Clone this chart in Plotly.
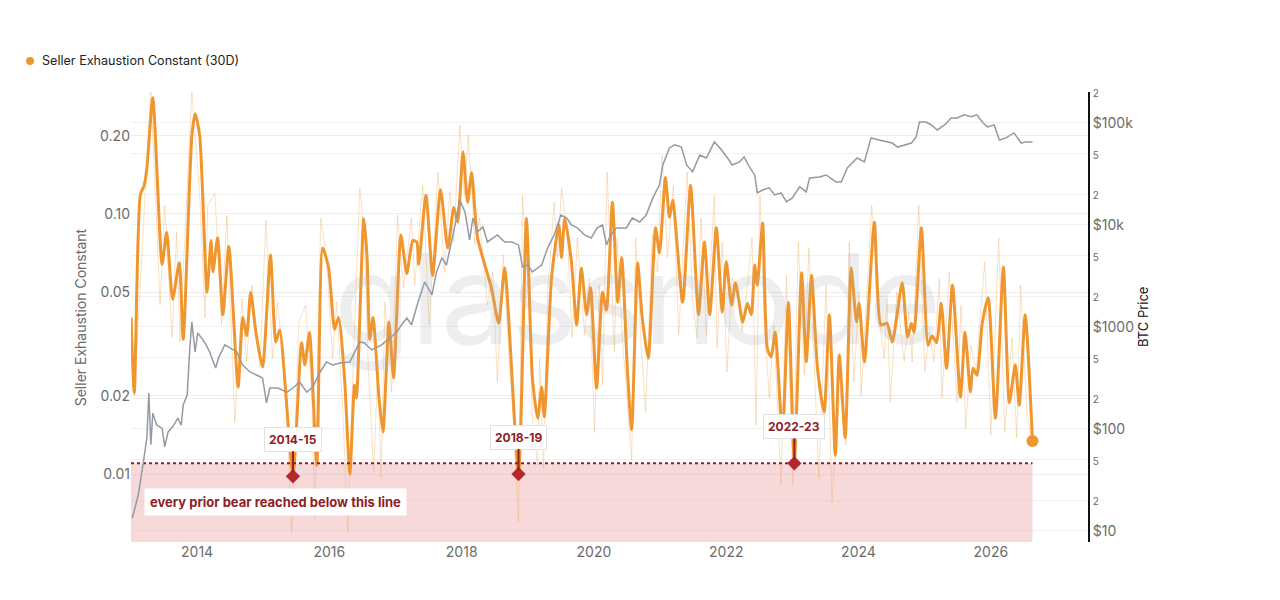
import math
import pandas as pd
import plotly.graph_objects as go

# Seller Exhaustion Constant, smoothed 30D (decimal year, value)
sec_t = [2013.00, 2013.05, 2013.14, 2013.20, 2013.24, 2013.33, 2013.47, 2013.54, 2013.63, 2013.73,
         2013.79, 2013.92, 2013.97, 2014.04, 2014.15, 2014.21, 2014.24, 2014.31, 2014.39, 2014.48,
         2014.62, 2014.69, 2014.75, 2014.81, 2014.89, 2014.99, 2015.11, 2015.19, 2015.25, 2015.45,
         2015.58, 2015.63, 2015.70, 2015.81, 2015.90, 2015.99, 2016.08, 2016.14, 2016.23, 2016.31,
         2016.38, 2016.41, 2016.52, 2016.57, 2016.61, 2016.66, 2016.75, 2016.81, 2016.90, 2016.97,
         2017.08, 2017.17, 2017.26, 2017.32, 2017.35, 2017.46, 2017.56, 2017.68, 2017.79, 2017.88,
         2017.94, 2018.02, 2018.09, 2018.15, 2018.24, 2018.45, 2018.56, 2018.65, 2018.86, 2018.98,
         2019.07, 2019.15, 2019.21, 2019.25, 2019.36, 2019.47, 2019.51, 2019.56, 2019.66, 2019.74,
         2019.81, 2019.89, 2019.95, 2020.04, 2020.13, 2020.19, 2020.28, 2020.36, 2020.42, 2020.51,
         2020.57, 2020.66, 2020.73, 2020.82, 2020.93, 2020.99, 2021.08, 2021.14, 2021.19, 2021.34,
         2021.46, 2021.58, 2021.67, 2021.75, 2021.85, 2021.94, 2022.00, 2022.08, 2022.14, 2022.25,
         2022.32, 2022.38, 2022.43, 2022.47, 2022.55, 2022.62, 2022.68, 2022.74, 2022.85, 2022.94,
         2023.03, 2023.14, 2023.21, 2023.29, 2023.38, 2023.48, 2023.56, 2023.65, 2023.71, 2023.80,
         2023.89, 2023.97, 2024.01, 2024.09, 2024.24, 2024.34, 2024.43, 2024.51, 2024.66, 2024.74,
         2024.80, 2024.84, 2024.95, 2025.05, 2025.11, 2025.18, 2025.25, 2025.33, 2025.42, 2025.54,
         2025.61, 2025.69, 2025.73, 2025.79, 2025.87, 2025.96, 2026.07, 2026.19, 2026.28, 2026.37,
         2026.43, 2026.52, 2026.63]
sec_v = [0.040, 0.0205, 0.118, 0.129, 0.150, 0.280, 0.064, 0.085, 0.047, 0.065,
         0.033, 0.200, 0.243, 0.200, 0.050, 0.079, 0.060, 0.081, 0.041, 0.075,
         0.0216, 0.040, 0.034, 0.050, 0.035, 0.0258, 0.0695, 0.0322, 0.0358, 0.0099,
         0.032, 0.0263, 0.035, 0.0108, 0.074, 0.062, 0.036, 0.040, 0.0234, 0.010,
         0.022, 0.0196, 0.096, 0.068, 0.033, 0.040, 0.0196, 0.0145, 0.0384, 0.0234,
         0.083, 0.059, 0.079, 0.078, 0.064, 0.118, 0.058, 0.124, 0.074, 0.106,
         0.093, 0.173, 0.111, 0.144, 0.081, 0.052, 0.038, 0.062, 0.0100, 0.096,
         0.0234, 0.0164, 0.0216, 0.0166, 0.057, 0.091, 0.068, 0.096, 0.0656, 0.0374,
         0.062, 0.041, 0.052, 0.0214, 0.050, 0.0427, 0.111, 0.0458, 0.068, 0.024,
         0.0148, 0.0648, 0.0398, 0.0279, 0.0885, 0.0708, 0.138, 0.097, 0.113, 0.0458,
         0.129, 0.041, 0.078, 0.041, 0.0885, 0.042, 0.0656, 0.0447, 0.0544, 0.0384,
         0.0454, 0.041, 0.0636, 0.0533, 0.0923, 0.0305, 0.0282, 0.0351, 0.0141, 0.0458,
         0.0110, 0.0594, 0.027, 0.058, 0.0255, 0.0173, 0.041, 0.0118, 0.0287, 0.0138,
         0.062, 0.0384, 0.0454, 0.027, 0.093, 0.0374, 0.038, 0.0322, 0.0544, 0.0336,
         0.038, 0.035, 0.0885, 0.0313, 0.034, 0.032, 0.0454, 0.0255, 0.0533, 0.0198,
         0.0351, 0.0207, 0.0255, 0.024, 0.038, 0.0476, 0.0164, 0.0626, 0.0188, 0.0263,
         0.0184, 0.041, 0.0134]

# raw (daily) readings, thin line
raw_t = [2013.00, 2013.05, 2013.30, 2013.44, 2013.51, 2013.62, 2013.69, 2013.74, 2013.92, 2014.04,
         2014.12, 2014.16, 2014.27, 2014.37, 2014.45, 2014.57, 2014.68, 2014.75, 2014.83, 2014.95,
         2015.04, 2015.14, 2015.22, 2015.36, 2015.43, 2015.51, 2015.54, 2015.64, 2015.73, 2015.78,
         2015.87, 2015.96, 2016.05, 2016.11, 2016.20, 2016.28, 2016.35, 2016.46, 2016.53, 2016.59,
         2016.67, 2016.73, 2016.78, 2016.84, 2016.94, 2017.03, 2017.12, 2017.24, 2017.29, 2017.41,
         2017.51, 2017.64, 2017.74, 2017.82, 2017.88, 2017.97, 2018.04, 2018.10, 2018.20, 2018.27,
         2018.39, 2018.47, 2018.54, 2018.63, 2018.71, 2018.78, 2018.86, 2018.92, 2019.03, 2019.07,
         2019.15, 2019.18, 2019.24, 2019.30, 2019.40, 2019.45, 2019.51, 2019.60, 2019.67, 2019.75,
         2019.86, 2019.93, 2020.01, 2020.08, 2020.13, 2020.20, 2020.31, 2020.35, 2020.43, 2020.57,
         2020.63, 2020.72, 2020.78, 2020.88, 2020.96, 2021.03, 2021.11, 2021.20, 2021.28, 2021.41,
         2021.49, 2021.56, 2021.62, 2021.70, 2021.82, 2021.86, 2021.94, 2022.01, 2022.09, 2022.18,
         2022.24, 2022.32, 2022.39, 2022.45, 2022.51, 2022.57, 2022.65, 2022.72, 2022.83, 2022.91,
         2022.98, 2023.01, 2023.09, 2023.18, 2023.25, 2023.33, 2023.40, 2023.51, 2023.60, 2023.68,
         2023.75, 2023.81, 2023.86, 2023.93, 2024.01, 2024.04, 2024.20, 2024.31, 2024.39, 2024.43,
         2024.48, 2024.58, 2024.69, 2024.76, 2024.81, 2024.91, 2025.00, 2025.07, 2025.14, 2025.22,
         2025.26, 2025.37, 2025.49, 2025.55, 2025.62, 2025.70, 2025.78, 2025.84, 2025.91, 2026.00,
         2026.12, 2026.21, 2026.32, 2026.39, 2026.45, 2026.55, 2026.62]
raw_v = [0.0398, 0.020, 0.30, 0.0447, 0.108, 0.0334, 0.0853, 0.0322, 0.30, 0.118,
         0.0398, 0.108, 0.1205, 0.0374, 0.0991, 0.0158, 0.0475, 0.027, 0.0533, 0.0256,
         0.0948, 0.0279, 0.0459, 0.0164, 0.00598, 0.022, 0.0384, 0.0447, 0.022, 0.00677,
         0.0965, 0.0677, 0.0279, 0.0459, 0.0184, 0.00598, 0.022, 0.126, 0.0809, 0.0247,
         0.0102, 0.0256, 0.00965, 0.0459, 0.0207, 0.0991, 0.0519, 0.0965, 0.0533, 0.129,
         0.0374, 0.145, 0.0598, 0.1215, 0.078, 0.22, 0.118, 0.2013, 0.076, 0.0965,
         0.0447, 0.0598, 0.0226, 0.0696, 0.0295, 0.0164, 0.00654, 0.118, 0.0398, 0.0164,
         0.0108, 0.0279, 0.0105, 0.0501, 0.111, 0.0677, 0.126, 0.083, 0.0334, 0.0809,
         0.0342, 0.0567, 0.0145, 0.0533, 0.022, 0.145, 0.0295, 0.0809, 0.0334, 0.0113,
         0.0809, 0.0295, 0.0173, 0.083, 0.0598, 0.169, 0.0677, 0.129, 0.0342, 0.145,
         0.0459, 0.0334, 0.0965, 0.0342, 0.118, 0.0305, 0.078, 0.0247, 0.0567, 0.0475,
         0.0352, 0.0533, 0.0809, 0.0154, 0.118, 0.042, 0.0196, 0.0374, 0.00907, 0.0583,
         0.0138, 0.00907, 0.078, 0.024, 0.074, 0.027, 0.00965, 0.0533, 0.0078, 0.0164,
         0.022, 0.0129, 0.078, 0.0226, 0.0501, 0.0201, 0.108, 0.0398, 0.0279, 0.0475,
         0.0189, 0.0501, 0.027, 0.042, 0.027, 0.108, 0.0247, 0.0352, 0.027, 0.0567,
         0.0196, 0.0598, 0.0189, 0.0447, 0.015, 0.0313, 0.0247, 0.0409, 0.0654, 0.0141,
         0.0809, 0.0145, 0.0334, 0.0138, 0.0533, 0.0164, 0.0138]

# BTC price (decimal year, USD)
btc_t = [2013.02, 2013.11, 2013.18, 2013.24, 2013.27, 2013.30, 2013.33, 2013.39, 2013.47, 2013.51,
         2013.56, 2013.63, 2013.71, 2013.76, 2013.79, 2013.85, 2013.89, 2013.92, 2013.97, 2014.01,
         2014.12, 2014.19, 2014.28, 2014.33, 2014.42, 2014.50, 2014.60, 2014.69, 2014.80, 2014.90,
         2014.99, 2015.05, 2015.10, 2015.22, 2015.36, 2015.45, 2015.55, 2015.66, 2015.75, 2015.86,
         2015.96, 2016.05, 2016.16, 2016.31, 2016.46, 2016.53, 2016.64, 2016.79, 2016.88, 2017.02,
         2017.09, 2017.17, 2017.24, 2017.34, 2017.44, 2017.55, 2017.62, 2017.70, 2017.77, 2017.85,
         2017.91, 2017.97, 2018.05, 2018.12, 2018.17, 2018.24, 2018.32, 2018.39, 2018.47, 2018.54,
         2018.65, 2018.76, 2018.86, 2018.92, 2019.00, 2019.07, 2019.21, 2019.30, 2019.40, 2019.50,
         2019.59, 2019.66, 2019.75, 2019.86, 2019.96, 2020.05, 2020.13, 2020.19, 2020.24, 2020.34,
         2020.49, 2020.58, 2020.69, 2020.79, 2020.89, 2020.99, 2021.04, 2021.14, 2021.22, 2021.32,
         2021.40, 2021.49, 2021.60, 2021.70, 2021.82, 2021.93, 2022.02, 2022.09, 2022.20, 2022.27,
         2022.35, 2022.43, 2022.47, 2022.55, 2022.65, 2022.73, 2022.83, 2022.91, 2023.00, 2023.11,
         2023.21, 2023.26, 2023.41, 2023.51, 2023.66, 2023.74, 2023.83, 2023.98, 2024.09, 2024.19,
         2024.31, 2024.42, 2024.51, 2024.59, 2024.69, 2024.80, 2024.87, 2024.92, 2025.02, 2025.10,
         2025.19, 2025.30, 2025.40, 2025.49, 2025.60, 2025.70, 2025.79, 2025.87, 2025.95, 2026.05,
         2026.13, 2026.23, 2026.35, 2026.46, 2026.53, 2026.63]
btc_p = [13.4, 22.5, 44, 82, 225, 70, 143, 109, 102, 67,
         93, 105, 128, 109, 172, 215, 622, 1120, 569, 874,
         697, 569, 396, 508, 667, 622, 569, 424, 362, 338,
         316, 180, 252, 252, 230, 252, 289, 230, 258, 362,
         454, 424, 443, 454, 713, 697, 595, 667, 747, 893,
         1047, 1225, 1047, 1760, 2760, 2060, 3460, 4740, 4050, 6810,
         10700, 17600, 13400, 7130, 11700, 8540, 9550, 6810, 7460, 7980,
         6810, 6810, 6370, 3870, 4050, 3460, 4050, 5950, 7980, 12500,
         11700, 10000, 9350, 7980, 7460, 9350, 10000, 6370, 7640, 9350,
         9350, 11700, 10700, 12500, 18400, 24700, 38700, 56900, 60900, 58000,
         38700, 33100, 48500, 45300, 65200, 54300, 45300, 38700, 41500, 46400,
         37000, 30900, 20600, 22000, 23100, 19700, 20600, 16800, 18400, 23600,
         21100, 28900, 29500, 30900, 26400, 26400, 36200, 45300, 41500, 71300,
         68000, 65200, 63500, 58000, 60900, 63500, 72900, 102000, 102000, 95500,
         85300, 95500, 112000, 112000, 120000, 115000, 120000, 102000, 91400, 95500,
         68000, 71300, 79800, 63500, 65200, 65200]

threshold = 0.011
bear_labels = ["2014-15", "2018-19", "2022-23"]
bear_t = [2015.45, 2018.86, 2023.03]
bear_v = [0.0098, 0.0100, 0.0110]

sec_ticks = [0.01, 0.02, 0.05, 0.10, 0.20]
sec_ticktext = ["0.01", "0.02", "0.05", "0.10", "0.20"]
btc_ticks = [10, 20, 50, 100, 200, 500, 1000, 2000, 5000, 10000, 20000, 50000, 100000, 200000]
btc_major = {10: "$10", 100: "$100", 1000: "$1000", 10000: "$10k", 100000: "$100k"}

ORANGE = "#F0962E"
DARKRED = "#8E2126"
GRAY_TXT = "#6b6b6b"
FONT = "Inter, Roboto, sans-serif"


def to_date(t):
    y = int(t)
    start = pd.Timestamp(y, 1, 1)
    end = pd.Timestamp(y + 1, 1, 1)
    return start + (end - start) * (t - y)


sec_x = [to_date(t) for t in sec_t]
raw_x = [to_date(t) for t in raw_t]
btc_x = [to_date(t) for t in btc_t]
bear_x = [to_date(t) for t in bear_t]

y_lo, y_hi = 0.00548, 0.2945
p_lo, p_hi = 7.8, 201000
x_start, x_end = to_date(2013.0), to_date(2027.47)
data_end = sec_x[-1]

fig = go.Figure()

# pink zone below threshold
fig.add_trace(go.Scatter(
    x=[x_start, data_end, data_end, x_start, x_start],
    y=[threshold, threshold, y_lo, y_lo, threshold],
    fill="toself", fillcolor="rgba(240,170,170,0.45)", mode="lines",
    line=dict(width=0), hoverinfo="skip", showlegend=False))

# BTC price on right axis
fig.add_trace(go.Scatter(
    x=btc_x, y=btc_p, yaxis="y2", mode="lines",
    line=dict(color="#9499a3", width=1.5), hoverinfo="skip", showlegend=False))

# raw thin line
fig.add_trace(go.Scatter(
    x=raw_x, y=raw_v, mode="lines",
    line=dict(color="rgba(238,170,90,0.35)", width=1), hoverinfo="skip", showlegend=False))

# smoothed line
fig.add_trace(go.Scatter(
    x=sec_x, y=sec_v, mode="lines",
    line=dict(color=ORANGE, width=3, shape="spline", smoothing=0.6),
    hoverinfo="skip", showlegend=False))

# threshold dotted line
fig.add_trace(go.Scatter(
    x=[x_start, data_end], y=[threshold, threshold], mode="lines",
    line=dict(color=DARKRED, width=2, dash="dot"), hoverinfo="skip", showlegend=False))

# bear markers
fig.add_trace(go.Scatter(
    x=bear_x, y=bear_v, mode="markers",
    marker=dict(symbol="diamond", size=11, color="#B3272D"),
    hoverinfo="skip", showlegend=False))

# last value dot
fig.add_trace(go.Scatter(
    x=[sec_x[-1]], y=[sec_v[-1]], mode="markers",
    marker=dict(size=12, color=ORANGE), hoverinfo="skip", showlegend=False))

annotations = []
for lab, bx, bv in zip(bear_labels, bear_x, bear_v):
    annotations.append(dict(
        x=bx, y=math.log10(bv), xref="x", yref="y", text=lab,
        showarrow=True, arrowhead=0, arrowwidth=2, arrowcolor=DARKRED,
        ax=0, ay=-37, standoff=4,
        font=dict(family=FONT, size=12, color=DARKRED, weight="bold"),
        bgcolor="white", bordercolor="#e2e2e2", borderwidth=1, borderpad=4))

annotations.append(dict(
    x=0.0136, y=0.089, xref="paper", yref="paper", xanchor="left", yanchor="middle",
    text="every prior bear reached below this line", showarrow=False,
    font=dict(family=FONT, size=13, color=DARKRED, weight="bold"),
    bgcolor="white", borderpad=5))

annotations.append(dict(
    x=0.529, y=0.542, xref="paper", yref="paper", text="glassnode", showarrow=False,
    font=dict(family=FONT, size=125, color="rgba(170,170,170,0.2)")))

# axis titles
annotations.append(dict(
    x=-0.053, y=0.5, xref="paper", yref="paper", xanchor="center", yanchor="middle",
    text="Seller Exhaustion Constant", textangle=-90, showarrow=False,
    font=dict(family=FONT, size=14, color=GRAY_TXT)))
annotations.append(dict(
    x=1.0575, y=0.5, xref="paper", yref="paper", xanchor="center", yanchor="middle",
    text="BTC Price", textangle=-90, showarrow=False,
    font=dict(family=FONT, size=13, color="#111")))

# legend (dot + label)
annotations.append(dict(
    x=-0.0951, y=1.0689, xref="paper", yref="paper", xanchor="left", yanchor="middle",
    text="Seller Exhaustion Constant (30D)", showarrow=False,
    font=dict(family=FONT, size=12.6, color="#222")))
legend_dot = dict(type="circle", xref="paper", yref="paper",
                  x0=-0.1097, x1=-0.1013, y0=1.0600, y1=1.0778,
                  fillcolor=ORANGE, line=dict(width=0))

btc_ticktext = [btc_major.get(v, '<span style="font-size:10px">%s</span>' % str(v)[0])
                for v in btc_ticks]

fig.update_layout(
    width=1280, height=600,
    paper_bgcolor="white", plot_bgcolor="white",
    margin=dict(l=123, r=200, t=84, b=66, autoexpand=False),
    font=dict(family=FONT, color=GRAY_TXT),
    showlegend=False,
    xaxis=dict(type="date", range=[x_start, x_end], dtick="M24", tick0="2014-01-01",
               tickformat="%Y", showgrid=False, zeroline=False, showline=False,
               tickfont=dict(size=14, color=GRAY_TXT), ticks=""),
    yaxis=dict(type="log", range=[math.log10(y_lo), math.log10(y_hi)],
               tickvals=sec_ticks, ticktext=sec_ticktext,
               tickfont=dict(size=14, color=GRAY_TXT),
               showgrid=True, gridcolor="#eeeeee", zeroline=False, showline=False),
    yaxis2=dict(type="log", overlaying="y", side="right",
                range=[math.log10(p_lo), math.log10(p_hi)],
                tickvals=btc_ticks, ticktext=btc_ticktext,
                tickfont=dict(size=14, color=GRAY_TXT),
                showgrid=True, gridcolor="#f0f0f0", zeroline=False,
                showline=True, linecolor="#111", linewidth=2, ticks=""),
    annotations=annotations,
    shapes=[legend_dot],
)

fig.write_html("out.html")
